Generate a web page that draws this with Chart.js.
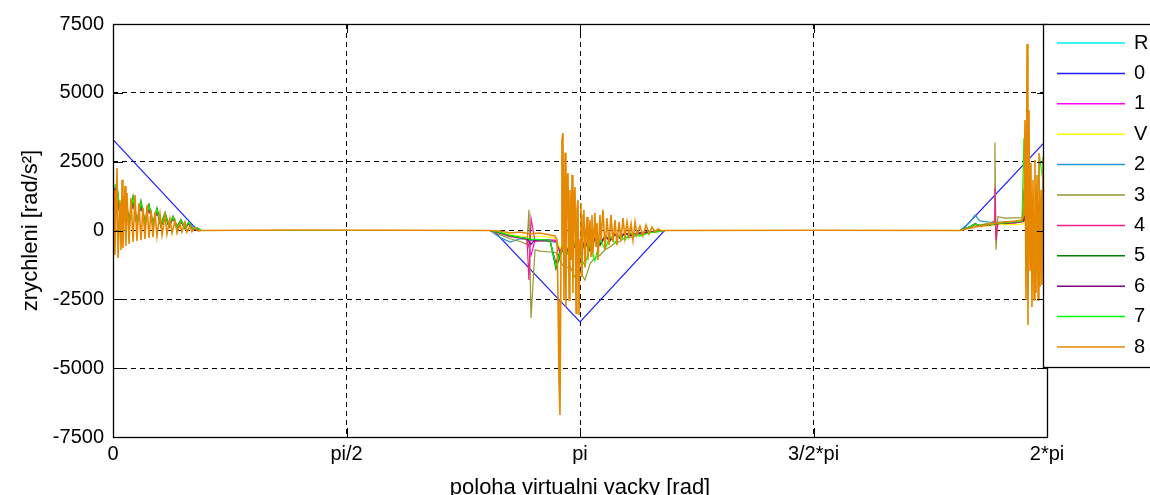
<!DOCTYPE html>
<html>
<head>
<meta charset="utf-8">
<script src="https://cdn.jsdelivr.net/npm/chart.js@4.4.1/dist/chart.umd.min.js"></script>
<style>
  html, body { margin: 0; padding: 0; background: #fff; overflow: hidden; }
</style>
</head>
<body>
<canvas id="accel-chart" width="1150" height="495"></canvas>
<script>
const seriesLabels = ['R', '0', '1', 'V', '2', '3', '4', '5', '6', '7', '8']
const seriesColors = [
  'rgb(0,240,240)',
  'rgb(30,30,255)',
  'rgb(255,0,255)',
  'rgb(255,255,0)',
  'rgb(40,150,210)',
  'rgb(150,150,50)',
  'rgb(240,30,140)',
  'rgb(0,128,0)',
  'rgb(128,0,128)',
  'rgb(0,255,0)',
  'rgb(230,135,0)'
]
const xTickLabels = ['0', 'pi/2', 'pi', '3/2*pi', '2*pi']

// reference curve "0"
const x0 = [0, 0.57, 2.56, 3.142, 3.71, 5.71, 6.283]
const y0 = [3300, 0, 0, -3320, 0, 0, 3300]

// shared positions (rad) for the smaller curves
const xMinor = [
  0, 0.027, 0.054, 0.081, 0.108, 0.135, 0.161, 0.188, 0.215, 0.242, 0.269, 0.296, 0.323, 0.350, 0.377, 0.404, 0.431, 0.457, 0.484, 0.511, 0.538, 0.565, 0.592,
  2.536,
  2.603, 2.671, 2.738, 2.785, 2.798, 2.812, 2.839, 2.872, 2.940, 2.980, 3.007, 3.041, 3.074, 3.108, 3.142, 3.175, 3.209, 3.242, 3.276, 3.310, 3.343, 3.377, 3.411, 3.444, 3.478, 3.545, 3.612, 3.680, 3.713,
  5.698,
  5.765, 5.799, 5.832, 5.900, 5.927, 5.933, 5.940, 5.953, 6.000, 6.068, 6.115, 6.128, 6.135, 6.149, 6.169, 6.202, 6.236, 6.283
]

const yR = [
  1450, 1550, 220, 1300, 260, 1120, 210, 980, 240, 870, 200, 740, 150, 590, 140, 470, 100, 350, 80, 270, 50, 70, 0,
  0,
  -90, -200, -270, -300, -310, -320, -330, -340, -360, -380, -700, -500, -900, -450, -800, -380, -650, -280, -500, -200, -350, -130, -260, -90, -180, -90, -50, -20, 0,
  0,
  130, 250, 170, 210, 230, 240, 240, 250, 270, 300, 330, 350, 900, -300, 1200, 100, 1000, 600
]
const y1 = [
  1500, 1450, 300, 1250, 320, 1080, 260, 950, 280, 820, 240, 700, 190, 560, 160, 450, 120, 330, 90, 250, 60, 60, 0,
  0,
  -80, -180, -240, -280, -600, -900, -350, -330, -340, -360, -800, -450, -1000, -500, -750, -420, -600, -300, -450, -230, -320, -150, -230, -100, -160, -80, -40, -20, 0,
  0,
  120, 200, 160, 190, 210, 700, -200, 240, 250, 280, 310, 330, 800, -200, 1100, 200, 900, 500
]
const yV = [
  1400, 1600, 250, 1350, 240, 1150, 230, 1000, 220, 900, 190, 760, 140, 600, 130, 480, 110, 360, 70, 280, 40, 80, 0,
  0,
  -60, -150, -200, -220, -230, -230, -220, -200, -250, -300, -650, -450, -850, -400, -700, -350, -600, -250, -450, -180, -320, -120, -240, -80, -160, -80, -40, -10, 0,
  0,
  100, 180, 150, 180, 200, 220, 230, 230, 220, 210, 230, 260, 800, -200, 1000, 200, 900, 500
]
const y2 = [
  1500, 1650, 250, 1400, 300, 1200, 260, 1050, 300, 930, 250, 800, 200, 640, 180, 520, 140, 400, 110, 310, 70, 100, 0,
  0,
  -250, -420, -300, -330, -350, -360, -370, -380, -400, -420, -750, -520, -950, -480, -850, -400, -700, -300, -520, -220, -380, -150, -280, -100, -200, -100, -60, -20, 0,
  0,
  300, 560, 350, 300, 290, 300, 290, 300, 310, 330, 350, 370, 1000, -200, 1300, 300, 1100, 1500
]
const y3 = [
  1600, 1500, 350, 1400, 400, 1250, 350, 1100, 380, 950, 330, 820, 280, 660, 220, 520, 170, 400, 120, 300, 80, 100, 0,
  0,
  -150, -300, -400, -500, 750, -3180, -700, -750, -780, -800, -1100, -1400, -1300, -1700, -1500, -1800, -1200, -1000, -900, -700, -600, -450, -400, -250, -250, -150, -80, -30, 0,
  0,
  120, 220, 200, 280, 350, 3200, -700, 500, 450, 460, 470, 480, 1200, -500, 1500, 400, 1200, 1000
]
const y4 = [
  1400, 1500, 200, 1250, 240, 1100, 200, 960, 220, 850, 180, 720, 140, 580, 120, 460, 90, 340, 70, 260, 50, 60, 0,
  0,
  -100, -220, -280, -320, -1800, 450, -400, -380, -380, -400, -800, -500, -950, -480, -820, -400, -680, -300, -500, -220, -360, -150, -260, -100, -170, -90, -50, -20, 0,
  0,
  120, 220, 170, 200, 220, 1540, -350, 280, 250, 280, 330, 1500, 800, -200, 1100, 150, 950, 550
]
const y5 = [
  1450, 1550, 230, 1320, 250, 1130, 220, 990, 230, 880, 210, 750, 160, 600, 150, 480, 110, 360, 80, 280, 50, 70, 0,
  0,
  -80, -190, -260, -300, -310, -320, -330, -340, -380, -1400, -900, -600, -1000, -500, -900, -450, -750, -300, -550, -220, -380, -140, -270, -100, -190, -90, -50, -20, 0,
  0,
  130, 240, 180, 210, 230, 240, 250, 260, 280, 310, 340, 360, 950, -250, 1250, 150, 1050, 650
]
const y6 = [
  1420, 1520, 210, 1290, 250, 1110, 210, 970, 230, 860, 200, 730, 150, 580, 140, 460, 100, 340, 80, 260, 50, 70, 0,
  0,
  -80, -190, -260, -300, -400, -500, -330, -340, -360, -1200, -750, -500, -950, -480, -800, -380, -650, -280, -500, -200, -350, -130, -260, -90, -180, -90, -50, -20, 0,
  0,
  130, 250, 170, 210, 230, 240, 240, 250, 270, 300, 330, 350, 880, -300, 1180, 100, 980, 600
]
const y7 = [
  1600, 1700, 260, 1380, 280, 1180, 240, 1020, 260, 900, 220, 770, 170, 610, 160, 490, 110, 370, 90, 290, 60, 90, 0,
  0,
  -70, -180, -250, -290, -300, -310, -320, -330, -350, -1300, -800, -600, -1000, -400, -900, -1300, -450, -1100, -300, -700, -200, -450, -150, -350, -100, -200, -80, -30, 0,
  0,
  130, 240, 180, 210, 230, 240, 250, 260, 280, 310, 340, 3360, 1450, -300, 1200, 200, 2600, 700
]

// curve "8" has its own, denser positions
const x8 = [
  0, 0.007, 0.013, 0.027, 0.034, 0.047, 0.054, 0.061, 0.067, 0.081, 0.087, 0.094, 0.108, 0.121, 0.135, 0.148, 0.161, 0.175, 0.188, 0.202,
  0.215, 0.229, 0.242, 0.256, 0.269, 0.283, 0.296, 0.316, 0.330, 0.350, 0.363, 0.383, 0.397, 0.417, 0.431, 0.451, 0.464, 0.484, 0.498, 0.518,
  0.531, 0.552, 0.572, 0.585,
  1.2, 2.0,
  2.536, 2.603, 2.671, 2.738, 2.805, 2.872, 2.940, 2.973, 2.987, 2.994, 3.000, 3.007, 3.014, 3.020, 3.027, 3.034, 3.041, 3.047, 3.054, 3.061,
  3.068, 3.074, 3.081, 3.088, 3.094, 3.101, 3.108, 3.115, 3.121, 3.128, 3.135, 3.142, 3.148, 3.155, 3.162, 3.168, 3.175, 3.182, 3.189, 3.195,
  3.209, 3.216, 3.222, 3.229, 3.242, 3.249, 3.256, 3.263, 3.276, 3.283, 3.296, 3.310, 3.323, 3.337, 3.350, 3.363, 3.377, 3.390, 3.404, 3.417,
  3.431, 3.444, 3.458, 3.471, 3.485, 3.498, 3.512, 3.525, 3.545, 3.565, 3.586, 3.606, 3.626, 3.646, 3.666, 3.693, 3.713,
  4.7,
  5.698, 5.799, 5.900, 6.000, 6.068, 6.115, 6.128, 6.135, 6.142, 6.149, 6.155, 6.162, 6.169, 6.175, 6.182, 6.189, 6.196, 6.202, 6.209, 6.216,
  6.223, 6.229, 6.236, 6.243, 6.249, 6.256, 6.263, 6.270, 6.276, 6.283
]
const y8 = [
  0, 1470, -890, 2270, -1000, 1100, -710, 1840, -640, 1620, -560, 1360, -490, 1180, -420, 1290, -380, 1000, -350, 820,
  -310, 930, -270, 750, -240, 670, -200, 600, -160, 530, -130, 420, -90, 350, -90, 240, -55, 310, -55, 160,
  -40, 90, -20, 0,
  20, 10,
  0, -18, -91, -55, -127, -91, -164, -200, -345, -2530, -5430, -6700, -710, 3290, 3540, -2530, 2820, -2780, 1840, 2090,
  -2530, 1470, -1070, 2020, -2270, 1110, 1580, -3000, 750, 1110, -3070, -350, 1000, -1690, 560, 750, -1330, 0, 490, -1070,
  380, -930, 560, -820, 640, -600, 270, -1070, 560, -350, 750, -710, 450, -530, 560, -420, 380, -530, 310, -350,
  450, -270, 310, -200, 240, -350, 310, -160, 160, -200, 200, -130, 130, -55, 55, -18, 0,
  10,
  0, 127, 236, 309, 345, 382, 563, 4015, -2526, 6777, -3434, 4379, -1435, 2453, -2780, 1835, -2526, 2562, -2271, 2017,
  -2526, 2816, -2053, 1472, -1981, 2671, -1435, 1108, -1072, 745
]

function toPoints(xs, ys) {
  return xs.map((x, i) => ({ x: x, y: ys[i] }))
}

const seriesPoints = [
  toPoints(xMinor, yR),
  toPoints(x0, y0),
  toPoints(xMinor, y1),
  toPoints(xMinor, yV),
  toPoints(xMinor, y2),
  toPoints(xMinor, y3),
  toPoints(xMinor, y4),
  toPoints(xMinor, y5),
  toPoints(xMinor, y6),
  toPoints(xMinor, y7),
  toPoints(x8, y8)
]

const fontFamily = '"Liberation Sans", Arial, Helvetica, sans-serif'

// MATLAB style box with inward ticks
const axesFramePlugin = {
  id: 'axesFrame',
  afterDatasetsDraw(chart) {
    const { ctx, chartArea: a, scales } = chart
    ctx.save()
    ctx.strokeStyle = '#000'
    ctx.lineWidth = 1
    ctx.setLineDash([])
    ctx.beginPath()
    scales.y.ticks.forEach(t => {
      const y = Math.round(scales.y.getPixelForValue(t.value)) + 0.5
      ctx.moveTo(a.left, y); ctx.lineTo(a.left + 10, y)
      ctx.moveTo(a.right, y); ctx.lineTo(a.right - 10, y)
    })
    scales.x.ticks.forEach(t => {
      const x = Math.round(scales.x.getPixelForValue(t.value)) + 0.5
      ctx.moveTo(x, a.bottom); ctx.lineTo(x, a.bottom - 9)
      ctx.moveTo(x, a.top); ctx.lineTo(x, a.top + 9)
    })
    ctx.stroke()
    ctx.lineWidth = 1.3
    ctx.strokeRect(a.left + 0.5, a.top + 0.5, a.right - a.left, a.bottom - a.top)
    ctx.restore()
  }
}

const legendBoxPlugin = {
  id: 'legendBox',
  afterDraw(chart) {
    const { ctx } = chart
    ctx.save()
    ctx.fillStyle = '#fff'
    ctx.fillRect(1043, 24, 140, 343)
    ctx.strokeStyle = '#000'
    ctx.lineWidth = 1.3
    ctx.strokeRect(1043.5, 24.5, 140, 343)
    ctx.font = '20px ' + fontFamily
    ctx.textBaseline = 'middle'
    chart.data.datasets.forEach((ds, i) => {
      const y = 43 + i * 30.4
      ctx.strokeStyle = ds.borderColor
      ctx.lineWidth = 1.5
      ctx.beginPath()
      ctx.moveTo(1057, y)
      ctx.lineTo(1125, y)
      ctx.stroke()
      ctx.fillStyle = '#000'
      ctx.fillText(ds.label, 1134, y)
    })
    ctx.restore()
  }
}

const ctx = document.getElementById('accel-chart').getContext('2d')

new Chart(ctx, {
  type: 'scatter',
  data: {
    datasets: seriesLabels.map((label, i) => ({
      label: label,
      data: seriesPoints[i],
      borderColor: seriesColors[i],
      backgroundColor: seriesColors[i],
      borderWidth: i === 10 ? 1.6 : 1.2,
      showLine: true,
      pointRadius: 0,
      tension: 0,
      order: seriesLabels.length - 1 - i
    }))
  },
  options: {
    responsive: false,
    animation: false,
    layout: { padding: { left: 0, right: 103, top: 24, bottom: 0 } },
    plugins: {
      legend: { display: false },
      tooltip: { enabled: false }
    },
    scales: {
      x: {
        type: 'linear',
        min: 0,
        max: 2 * Math.PI,
        afterBuildTicks: scale => {
          scale.ticks = xTickLabels.map((_, i) => ({ value: i * Math.PI / 2 }))
        },
        afterFit: scale => { scale.height = 58 },
        ticks: {
          callback: (value, index) => xTickLabels[index],
          color: '#000',
          font: { family: fontFamily, size: 20 },
          padding: 5,
          maxRotation: 0,
          autoSkip: false
        },
        grid: { color: '#000', lineWidth: 1, drawTicks: false },
        border: { display: false, dash: [5, 4] },
        title: {
          display: true,
          text: 'poloha virtualni vacky [rad]',
          color: '#000',
          font: { family: fontFamily, size: 22 },
          padding: { top: 0, bottom: -6 }
        }
      },
      y: {
        min: -7500,
        max: 7500,
        afterFit: scale => { scale.width = 113 },
        ticks: {
          stepSize: 2500,
          callback: value => String(value),
          color: '#000',
          font: { family: fontFamily, size: 20 },
          padding: 9
        },
        grid: { color: '#000', lineWidth: 1, drawTicks: false },
        border: { display: false, dash: [5, 4] },
        title: {
          display: true,
          text: 'zrychleni [rad/s²]',
          color: '#000',
          font: { family: fontFamily, size: 22 },
          padding: { top: 18, bottom: 0 }
        }
      }
    }
  },
  plugins: [axesFramePlugin, legendBoxPlugin]
})
</script>
</body>
</html>
